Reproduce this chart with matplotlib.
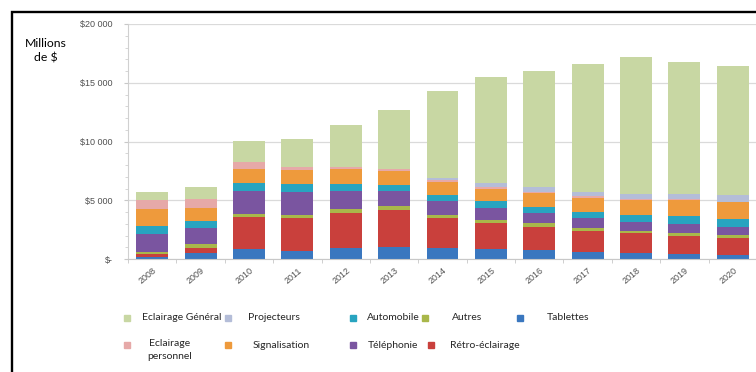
import matplotlib
matplotlib.use("Agg")
import matplotlib.pyplot as plt
import numpy as np
from matplotlib.patches import Rectangle
from matplotlib.ticker import FuncFormatter, MultipleLocator
from matplotlib.transforms import ScaledTranslation

# Marché des LED par application, en millions de $
years = ["2008", "2009", "2010", "2011", "2012", "2013", "2014",
         "2015", "2016", "2017", "2018", "2019", "2020"]
tablettes = [190, 475, 860, 660, 945, 1000, 950, 830, 760, 600, 550, 410, 340]
retro_eclairage = [200, 500, 2715, 2860, 3000, 3180, 2500, 2250, 2000, 1790, 1630, 1550, 1480]
autres = [220, 335, 290, 255, 290, 300, 300, 220, 270, 240, 220, 220, 200]
telephonie = [1530, 1335, 1910, 1945, 1570, 1280, 1180, 1000, 880, 830, 770, 770, 680]
automobile = [700, 610, 660, 660, 575, 570, 500, 650, 550, 510, 610, 740, 730]
signalisation = [1400, 1110, 1200, 1200, 1285, 1150, 1150, 1050, 1130, 1250, 1260, 1300, 1380]
eclairage_perso = [750, 780, 600, 285, 200, 200, 150, 100, 100, 100, 80, 80, 80]
projecteurs = [0, 0, 0, 0, 0, 0, 150, 400, 400, 400, 450, 480, 580]
eclairage_general = [720, 950, 1770, 2375, 3515, 5000, 7450, 8980, 9900, 10850, 11600, 11230, 10990]

# stacking order, bottom to top
series = [
    ("Tablettes", tablettes, "#3a77bf"),
    ("Rétro-éclairage", retro_eclairage, "#c9403c"),
    ("Autres", autres, "#a9b74a"),
    ("Téléphonie", telephonie, "#7a55a0"),
    ("Automobile", automobile, "#28a4c0"),
    ("Signalisation", signalisation, "#ee9a3c"),
    ("Eclairage\npersonnel", eclairage_perso, "#e6a9a8"),
    ("Projecteurs", projecteurs, "#b4bdd8"),
    ("Eclairage Général", eclairage_general, "#c8d7a3"),
]

W, H = 756, 372
fig = plt.figure(figsize=(W / 100, H / 100), dpi=100)
ax = fig.add_axes([128 / W, 113 / H, 629 / W, 235 / H])

x = np.arange(len(years))
bottom = np.zeros(len(years))
for label, vals, color in series:
    vals = np.array(vals, dtype=float)
    ax.bar(x, vals, width=0.66, bottom=bottom, color=color, zorder=2)
    bottom += vals

ax.set_xlim(-0.5, len(years) - 0.5)
ax.set_ylim(0, 20000)
ax.yaxis.set_major_locator(MultipleLocator(5000))
ax.yaxis.set_minor_locator(MultipleLocator(1000))
ax.yaxis.set_major_formatter(FuncFormatter(
    lambda v, p: "$-" if v == 0 else "${:,.0f}".format(v).replace(",", " ")))
ax.grid(axis="y", color="#dadada", linewidth=0.9, zorder=0)

for side in ("top", "right"):
    ax.spines[side].set_visible(False)
ax.spines["left"].set_color("#d0d0d0")
ax.spines["bottom"].set_color("#c8c8c8")

ax.tick_params(axis="y", which="major", length=3, color="#c8c8c8",
               labelsize=6.5, labelcolor="#505050", pad=8)
ax.tick_params(axis="y", which="minor", length=2, color="#d0d0d0")

# year labels under the bars, ticks between the categories
ax.set_xticks(x)
ax.set_xticklabels(years, rotation=40, ha="right", fontsize=6.5, color="#505050",
                   family="Liberation Sans")
ax.set_xticks(np.arange(-0.5, len(years), 1.0), minor=True)
ax.tick_params(axis="x", which="major", length=0, pad=5)
ax.tick_params(axis="x", which="minor", length=3, color="#c8c8c8")
shift = ScaledTranslation(6 / 100, 0, fig.dpi_scale_trans)
for lbl in ax.get_xticklabels():
    lbl.set_transform(lbl.get_transform() + shift)
for lbl in ax.get_yticklabels():
    lbl.set_family("Liberation Sans")

fig.text(46 / W, 1 - 51 / H, "Millions\nde $", ha="center", va="center",
         fontsize=8.8, family="Lato", linespacing=1.35)

# legend laid out in two rows like the original sheet
legend_pos = {
    "Eclairage Général": (127, 318, 142, "left"),
    "Projecteurs": (228, 318, 248, "left"),
    "Automobile": (353, 318, 367, "left"),
    "Autres": (425, 318, 452, "left"),
    "Tablettes": (520, 318, 547, "left"),
    "Eclairage\npersonnel": (127, 345, 170, "center"),
    "Signalisation": (228, 345, 253, "left"),
    "Téléphonie": (353, 345, 368, "left"),
    "Rétro-éclairage": (431, 345, 450, "left"),
}
for label, vals, color in series:
    mx, my, tx, ha = legend_pos[label]
    fig.patches.append(Rectangle(((mx - 3) / W, 1 - (my + 3) / H), 6 / W, 6 / H,
                                 transform=fig.transFigure, color=color))
    va = "top" if "\n" in label else "center"
    ty = my - 6 if "\n" in label else my
    fig.text(tx / W, 1 - ty / H, label, ha=ha, va=va, fontsize=7.5,
             family="Lato", color="#262626", linespacing=1.6)

# black frame around the figure
fig.patches.append(Rectangle((12 / W, -0.1), 1.2, 1 - 12 / H + 0.1,
                             transform=fig.transFigure, fill=False,
                             edgecolor="black", linewidth=1.7))

fig.savefig("out.png", dpi=100)
